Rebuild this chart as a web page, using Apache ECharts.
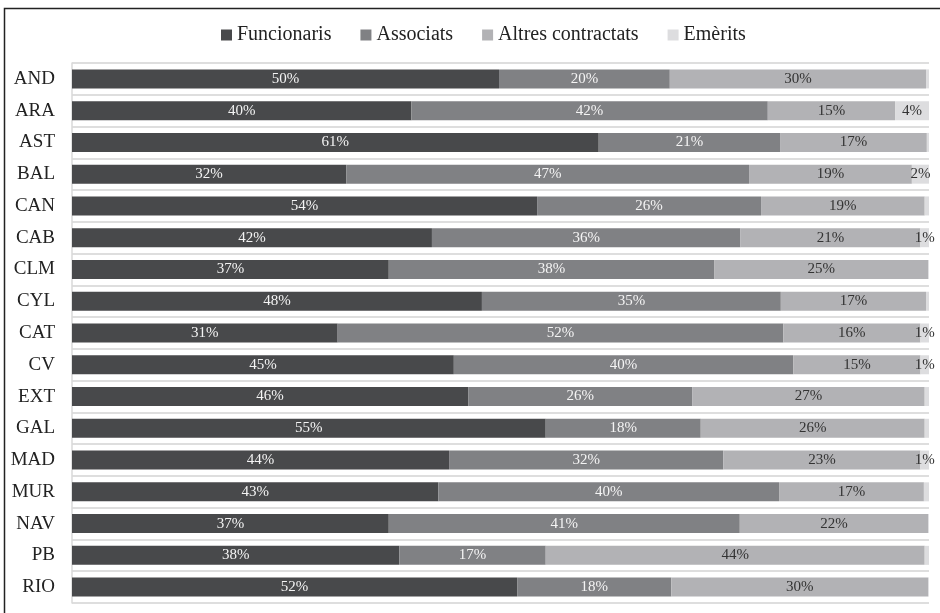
<!DOCTYPE html>
<html>
<head>
<meta charset="utf-8">
<title>Professorat per categoria</title>
<script src="https://cdn.jsdelivr.net/npm/echarts@6/dist/echarts.min.js"></script>
<style>
  html, body { margin: 0; padding: 0; background: #ffffff; }
  #chart { width: 940px; height: 613px; }
</style>
</head>
<body>
<div id="chart"></div>
<script>
// Universities by autonomous community
const categories = ['AND', 'ARA', 'AST', 'BAL', 'CAN', 'CAB', 'CLM', 'CYL', 'CAT',
  'CV', 'EXT', 'GAL', 'MAD', 'MUR', 'NAV', 'PB', 'RIO'];

// Share of teaching staff by category (%)
const funcionaris = [50, 40, 61, 32, 54, 42, 37, 48, 31, 45, 46, 55, 44, 43, 37, 38, 52];
const associats   = [20, 42, 21, 47, 26, 36, 38, 35, 52, 40, 26, 18, 32, 40, 41, 17, 18];
const altres      = [30, 15, 17, 19, 19, 21, 25, 17, 16, 15, 27, 26, 23, 17, 22, 44, 30];
const emerits     = [0.35, 4, 0.25, 2, 0.5, 1, 0.1, 0.35, 1, 1, 0.5, 0.5, 1, 0.6, 0.1, 0.5, 0.1];

const seriesNames = ['Funcionaris', 'Associats', 'Altres contractats', 'Emèrits'];
const seriesValues = [funcionaris, associats, altres, emerits];
const colors = ['#48494b', '#808184', '#b2b2b5', '#dddddf'];
const labelColors = ['#f4f4f4', '#f4f4f4', '#333333', '#333333'];

const FONT = '"Liberation Serif", "DejaVu Serif", serif';

// Each row is drawn as a 100% stacked bar
const rowTotals = categories.map((_, i) =>
  seriesValues.reduce((s, arr) => s + arr[i], 0));

const series = seriesValues.map((arr, k) => ({
  name: seriesNames[k],
  type: 'bar',
  stack: 'total',
  barWidth: 19,
  itemStyle: { color: colors[k] },
  label: {
    show: true,
    position: 'inside',
    color: labelColors[k],
    fontFamily: FONT,
    fontSize: 15,
    formatter: p => (p.data.raw >= 1 ? p.data.raw + '%' : '')
  },
  emphasis: { disabled: true },
  data: arr.map((v, i) => ({ value: v / rowTotals[i] * 100, raw: v }))
}));

const chart = echarts.init(document.getElementById('chart'), null, { renderer: 'canvas' });
chart.setOption({
  animation: false,
  backgroundColor: '#ffffff',
  textStyle: { fontFamily: FONT },
  graphic: [{
    type: 'rect',
    shape: { x: 4.5, y: 8.5, width: 1000, height: 1000 },
    style: { fill: 'none', stroke: '#222222', lineWidth: 1.5 },
    silent: true
  }],
  legend: {
    left: 216,
    top: 20,
    icon: 'rect',
    itemWidth: 11,
    itemHeight: 11,
    itemGap: 29,
    selectedMode: false,
    textStyle: { fontFamily: FONT, fontSize: 20, color: '#222222' },
    data: seriesNames
  },
  grid: { left: 72, right: 11, top: 63, bottom: 10, containLabel: false },
  xAxis: {
    type: 'value',
    min: 0,
    max: 100,
    show: false
  },
  yAxis: {
    type: 'category',
    inverse: true,
    data: categories,
    axisLine: { show: true, lineStyle: { color: '#d9d9d9', width: 1.5 } },
    axisTick: { show: false },
    splitLine: { show: true, lineStyle: { color: '#dedede', width: 2 } },
    axisLabel: {
      margin: 17,
      fontFamily: FONT,
      fontSize: 19,
      color: '#222222'
    }
  },
  series: series
});
</script>
</body>
</html>
